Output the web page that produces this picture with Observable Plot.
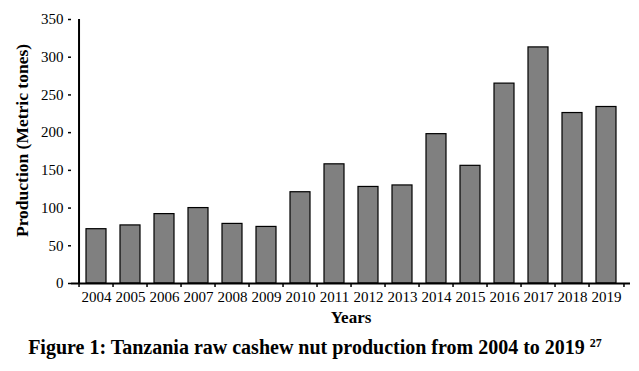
<!DOCTYPE html>
<html>
<head>
<meta charset="utf-8">
<script src="https://cdn.jsdelivr.net/npm/d3@7"></script>
<script src="https://cdn.jsdelivr.net/npm/@observablehq/plot@0.6"></script>
<style>
  html, body { margin: 0; padding: 0; background: #fff; }
  #chart { width: 639px; height: 330px; }
  #caption { font-family: "Liberation Serif", "Times New Roman", serif; font-weight: bold; font-size: 20px; text-align: center; width: 639px; margin-top: 6px; padding-right: 9px; box-sizing: border-box; white-space: nowrap; }
  #caption sup { font-size: 12px; vertical-align: 7px; line-height: 0; }
</style>
</head>
<body>
<div id="chart"></div>
<div id="caption">Figure 1: Tanzania raw cashew nut production from 2004 to 2019 <sup>27</sup></div>
<script>
const years = ["2004","2005","2006","2007","2008","2009","2010","2011","2012","2013","2014","2015","2016","2017","2018","2019"];
const production = [72, 77, 92, 100, 79, 75, 121, 158, 128, 130, 198, 156, 265, 313, 226, 234];
const yTicks = [0, 50, 100, 150, 200, 250, 300, 350];

const data = years.map((y, i) => ({year: y, value: production[i]}));

const W = 639, mL = 71, mR = 9;
const step = (W - mL - mR) / years.length;
const font = "'Liberation Serif', 'Times New Roman', serif";

const chart = Plot.plot({
  width: W,
  height: 330,
  marginLeft: mL,
  marginRight: mR,
  marginTop: 19,
  marginBottom: 47,
  style: {fontFamily: font, fontSize: "15px", color: "#000", background: "#fff"},
  x: {domain: years, padding: 0.42, label: null},
  y: {domain: [0, 350], label: null},
  marks: [
    Plot.barY(data, {x: "year", y: "value", fill: "#808080", stroke: "#000", strokeWidth: 1.2}),
    Plot.axisY({ticks: yTicks, tickSize: 3, tickPadding: 5, strokeWidth: 1.5, fontSize: 15}),
    Plot.axisX({tickFormat: d => d, tickSize: 0, tickPadding: 8, fontSize: 15}),
    Plot.axisX({tickFormat: null, tickSize: 4, dx: -step / 2, strokeWidth: 1.5, text: null}),
    Plot.axisX({ticks: [years[years.length - 1]], tickFormat: null, tickSize: 4, dx: step / 2, strokeWidth: 1.5, text: null}),
    Plot.ruleX([years[0]], {dx: -step / 2, stroke: "#000", strokeWidth: 2}),
    Plot.ruleY([0], {stroke: "#000", strokeWidth: 2}),
    Plot.text(["Years"], {frameAnchor: "bottom", dy: 39, text: d => d, fontWeight: "bold", fontSize: 17}),
    Plot.text(["Production (Metric tones)"], {frameAnchor: "left", dx: -49, dy: -11, rotate: -90, textAnchor: "middle", lineAnchor: "middle", text: d => d, fontWeight: "bold", fontSize: 17.5})
  ]
});
document.getElementById("chart").appendChild(chart);
</script>
</body>
</html>
